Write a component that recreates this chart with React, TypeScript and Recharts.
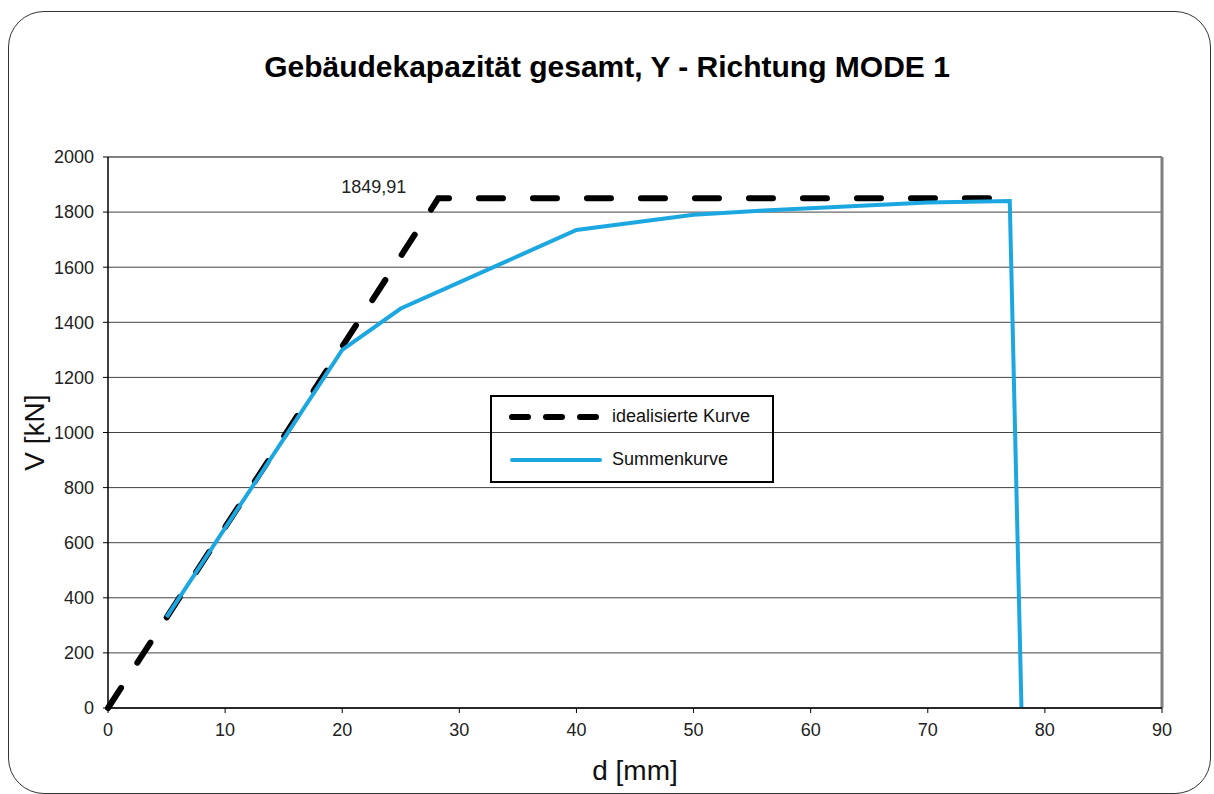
import { CartesianGrid, LabelList, Line, LineChart, ReferenceLine, XAxis, YAxis } from 'recharts';

const FONT = '"Liberation Sans", Arial, sans-serif';

const idealD = [0, 28.2, 77];
const idealV = [0, 1849.91, 1849.91];
const sumD = [5, 20, 25, 40, 50, 56, 70, 77, 78];
const sumV = [330, 1300, 1450, 1735, 1790, 1806, 1835, 1840, 0];
const xTicks = [0, 10, 20, 30, 40, 50, 60, 70, 80, 90];
const yTicks = [0, 200, 400, 600, 800, 1000, 1200, 1400, 1600, 1800, 2000];

const idealData = idealD.map((d, i) => ({ d, v: idealV[i] }));
const sumData = sumD.map((d, i) => ({ d, v: sumV[i] }));

const tickStyle = { fill: '#222', fontSize: 18, fontFamily: FONT };

export default function App() {
  return (
    <div style={{ position: 'absolute', left: 0, top: 0, width: 1214, height: 794, background: '#fff', overflow: 'hidden', fontFamily: FONT }}>
      <div style={{ position: 'absolute', left: 8, top: 11, width: 1201, height: 781, border: '1.5px solid #333', borderRadius: 36 }} />
      <div style={{ position: 'absolute', left: 0, top: 50, width: 1214, textAlign: 'center', fontSize: 30, fontWeight: 'bold', color: '#000' }}>
        Gebäudekapazität gesamt, Y - Richtung MODE 1
      </div>
      <LineChart width={1214} height={794} margin={{ top: 157, right: 52, bottom: 56, left: 0 }} style={{ position: 'absolute', left: 0, top: 0 }}>
        <CartesianGrid vertical={false} stroke="#444" strokeWidth={1} />
        <XAxis
          type="number"
          dataKey="d"
          domain={[0, 90]}
          ticks={xTicks}
          height={30}
          allowDuplicatedCategory={false}
          axisLine={{ stroke: '#000', strokeWidth: 1.5 }}
          tickLine={{ stroke: '#000' }}
          tickSize={5}
          tickMargin={10}
          tick={tickStyle}
          label={{
            content: (p: any) => (
              <text x={p.viewBox.x + p.viewBox.width / 2} y={p.viewBox.y + 72} textAnchor="middle" fill="#111" fontSize={28} fontFamily={FONT}>
                d [mm]
              </text>
            ),
          }}
        />
        <YAxis
          type="number"
          dataKey="v"
          domain={[0, 2000]}
          ticks={yTicks}
          width={108}
          axisLine={{ stroke: '#000', strokeWidth: 1.5 }}
          tickLine={{ stroke: '#000' }}
          tickSize={5}
          tickMargin={9}
          tick={tickStyle}
          label={{
            content: (p: any) => {
              const cx = p.viewBox.x + 44;
              const cy = p.viewBox.y + p.viewBox.height / 2;
              return (
                <text x={cx} y={cy} transform={`rotate(-90 ${cx} ${cy})`} textAnchor="middle" fill="#111" fontSize={28} fontFamily={FONT}>
                  V [kN]
                </text>
              );
            },
          }}
        />
        <ReferenceLine y={2000} stroke="#808080" strokeWidth={2} />
        <ReferenceLine x={90} stroke="#808080" strokeWidth={3} />
        <Line
          data={idealData}
          dataKey="v"
          type="linear"
          stroke="#000"
          strokeWidth={6}
          strokeDasharray="24 30"
          strokeLinecap="round"
          dot={false}
          activeDot={false}
          isAnimationActive={false}
        >
          <LabelList
            dataKey="v"
            content={(p: any) =>
              p.index === 1 ? (
                <text x={p.x - 32} y={p.y - 5} textAnchor="end" fill="#222" fontSize={18} fontFamily={FONT}>
                  {String(p.value).replace('.', ',')}
                </text>
              ) : null
            }
          />
        </Line>
        <Line data={sumData} dataKey="v" type="linear" stroke="#1CA7E1" strokeWidth={4} dot={false} activeDot={false} isAnimationActive={false} />
      </LineChart>
      <div style={{ position: 'absolute', left: 490, top: 395, width: 280, height: 84, border: '2px solid #000', fontSize: 18, color: '#111' }}>
        <div style={{ position: 'absolute', left: 16, top: 9, display: 'flex', alignItems: 'center' }}>
          <svg width={96} height={12}>
            <line x1={4} y1={6} x2={92} y2={6} stroke="#000" strokeWidth={6} strokeLinecap="round" strokeDasharray="16 18" />
          </svg>
          <span style={{ marginLeft: 8 }}>idealisierte Kurve</span>
        </div>
        <div style={{ position: 'absolute', left: 16, top: 52, display: 'flex', alignItems: 'center' }}>
          <svg width={96} height={12}>
            <line x1={4} y1={6} x2={92} y2={6} stroke="#1CA7E1" strokeWidth={4} strokeLinecap="round" />
          </svg>
          <span style={{ marginLeft: 8 }}>Summenkurve</span>
        </div>
      </div>
    </div>
  );
}
